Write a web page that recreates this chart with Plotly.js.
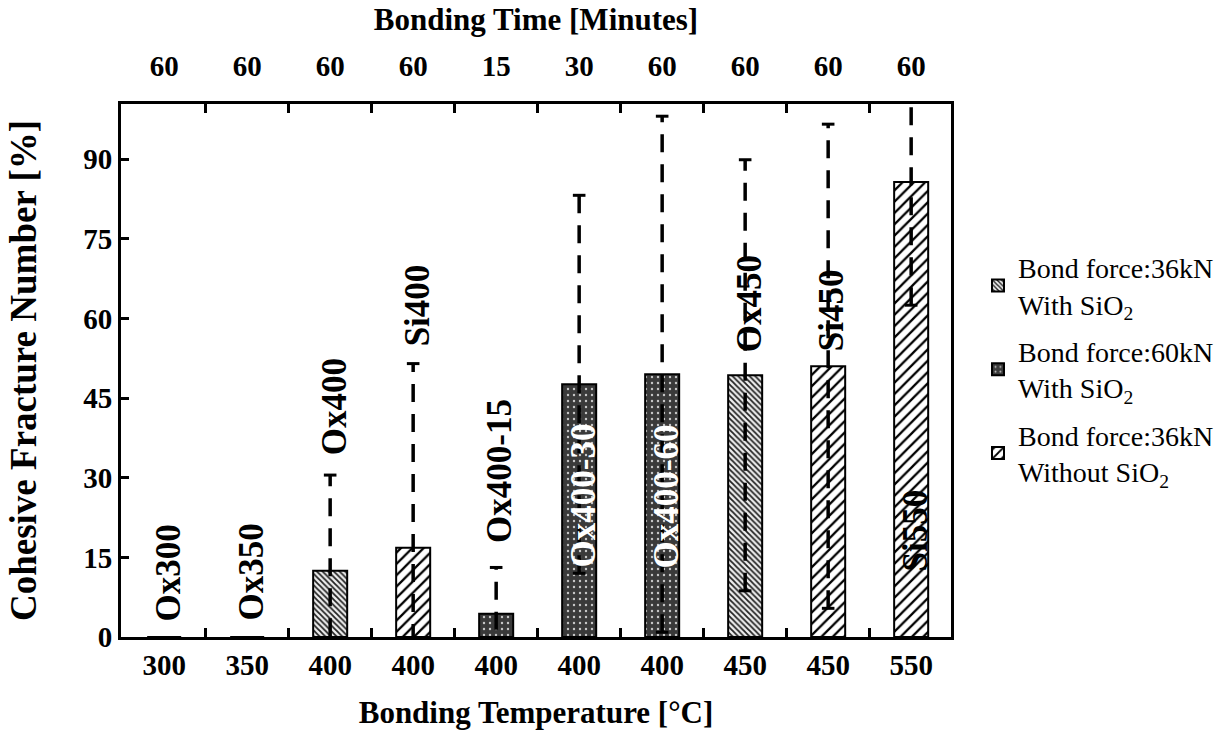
<!DOCTYPE html>
<html>
<head>
<meta charset="utf-8">
<script src="https://cdn.plot.ly/plotly-3.0.1.min.js"></script>
<style>html,body{margin:0;padding:0;background:#fff;}#chart{width:1231px;height:747px;}</style>
</head>
<body>
<div id="chart"></div>
<script>
// ---- data ----
const samples = ['Ox300','Ox350','Ox400','Si400','Ox400-15','Ox400-30','Ox400-60','Ox450','Si450','Si550'];
const temperatures = ['300','350','400','400','400','400','400','450','450','550'];
const bondTimes = ['60','60','60','60','15','30','60','60','60','60'];
const fractureValues = [0, 0, 12.5, 16.8, 4.4, 47.6, 49.5, 49.3, 51.0, 85.7];
const fractureErrors = [null, null, 18.0, 34.7, 8.7, 35.6, 48.6, 40.6, 45.6, 23.2];
const groupOf = ['A','A','A','C','B','B','B','A','C','C'];
const groupNames = {
  A: 'Bond force:36kN<br>With SiO<sub>2</sub>',
  B: 'Bond force:60kN<br>With SiO<sub>2</sub>',
  C: 'Bond force:36kN<br>Without SiO<sub>2</sub>'
};
const yTicks = [0, 15, 30, 45, 60, 75, 90];

// ---- styles / layout helpers ----
const FONT = 'Liberation Serif, Times New Roman, serif';
const patterns = {
  A: {shape: '\\', size: 4, solidity: 0.45, fgcolor: '#222', bgcolor: '#eee', fillmode: 'replace'},
  B: {shape: '.', size: 6, solidity: 0.12, fgcolor: '#c8c8c8', bgcolor: '#3a3a3a', fillmode: 'replace'},
  C: {shape: '/', size: 8, solidity: 0.28, fgcolor: '#000', bgcolor: '#fff', fillmode: 'replace'}
};
const labelPos = [12.0, 12.2, 43.3, 62.5, 31.3, 26.7, 26.5, 62.7, 61.6, 20.1];
const labelWhite = ['Ox400-30', 'Ox400-60'];

const idx = samples.map((_, i) => i);
const XR = [-0.52, 9.48];
const YR = [0, 100.4];

const traces = [];
['A','B','C'].forEach(g => {
  const ii = idx.filter(i => groupOf[i] === g);
  traces.push({
    type: 'bar',
    x: ii,
    y: ii.map(i => fractureValues[i]),
    width: 0.41,
    name: groupNames[g],
    legendgroup: g,
    marker: {color: patterns[g].bgcolor, pattern: patterns[g], line: {color: '#000', width: 2}},
    hoverinfo: 'skip'
  });
});

// error bars as dashed lines
const ex = [], ey = [];
idx.forEach(i => {
  if (fractureErrors[i] == null) return;
  ex.push(i, i, null);
  ey.push(fractureValues[i] - fractureErrors[i], fractureValues[i] + fractureErrors[i], null);
});
traces.push({
  type: 'scatter', mode: 'lines', x: ex, y: ey, showlegend: false, hoverinfo: 'skip',
  line: {color: '#000', width: 3.5, dash: '18px,12px'}
});
// caps
const cx = [], cy = [];
idx.forEach(i => {
  if (fractureErrors[i] == null) return;
  [fractureValues[i] - fractureErrors[i], fractureValues[i] + fractureErrors[i]].forEach(v => {
    if (v > YR[0] && v < YR[1]) { cx.push(i); cy.push(v); }
  });
});
traces.push({
  type: 'scatter', mode: 'markers', x: cx, y: cy, showlegend: false, hoverinfo: 'skip',
  marker: {symbol: 'line-ew', size: 9, line: {color: '#000', width: 3}}
});
// invisible traces that carry the boundary tick axes
['x2','x3','x4'].forEach(ax => traces.push({
  type: 'scatter', x: [0], y: [0], xaxis: ax, mode: 'markers',
  marker: {opacity: 0}, showlegend: false, hoverinfo: 'skip'
}));

const boundaries = idx.slice(0, -1).map(i => i + 0.5);
const tickFont = {family: FONT, size: 29, color: '#000', weight: 'bold'};
const titleFont = {family: FONT, size: 31, color: '#000', weight: 'bold'};

const annotations = idx.map(i => ({
  x: i, y: labelPos[i], xref: 'x', yref: 'y', text: samples[i], showarrow: false,
  textangle: -90, xshift: 4,
  font: {family: FONT, size: 35, weight: 'bold', color: labelWhite.includes(samples[i]) ? '#fff' : '#000'}
}));

const layout = {
  width: 1231, height: 747,
  margin: {l: 121, r: 280, t: 104, b: 110},
  paper_bgcolor: '#fff', plot_bgcolor: '#fff',
  barmode: 'overlay',
  showlegend: true,
  legend: {
    x: 1.0325, y: 0.74, xanchor: 'left', yanchor: 'top',
    font: {family: FONT, size: 28, color: '#000'},
    traceorder: 'grouped', tracegroupgap: 8, bgcolor: 'rgba(0,0,0,0)'
  },
  xaxis: {
    range: XR, tickmode: 'array', tickvals: idx, ticktext: temperatures,
    ticks: '', showgrid: false, zeroline: false,
    showline: true, linecolor: '#000', linewidth: 3, mirror: true,
    tickfont: tickFont, ticklabelstandoff: 0,
    title: {text: 'Bonding Temperature [°C]', font: titleFont, standoff: 22}
  },
  xaxis2: {
    overlaying: 'x', side: 'top', range: XR, tickmode: 'array', tickvals: idx, ticktext: bondTimes,
    ticks: '', showgrid: false, zeroline: false, showline: false,
    tickfont: tickFont, ticklabelstandoff: 21,
    title: {text: 'Bonding Time [Minutes]', font: titleFont, standoff: 10}
  },
  xaxis3: {
    overlaying: 'x', side: 'bottom', range: XR, tickmode: 'array', tickvals: boundaries,
    ticks: 'inside', ticklen: 9, tickwidth: 3, tickcolor: '#000',
    showticklabels: false, showgrid: false, zeroline: false, showline: false
  },
  xaxis4: {
    overlaying: 'x', side: 'top', range: XR, tickmode: 'array', tickvals: boundaries,
    ticks: 'inside', ticklen: 9, tickwidth: 3, tickcolor: '#000',
    showticklabels: false, showgrid: false, zeroline: false, showline: false
  },
  yaxis: {
    range: YR, tickmode: 'array', tickvals: yTicks, ticktext: yTicks.map(String),
    ticks: 'inside', ticklen: 8, tickwidth: 3, tickcolor: '#000',
    showgrid: false, zeroline: false,
    showline: true, linecolor: '#000', linewidth: 3, mirror: true,
    tickfont: tickFont, ticklabelstandoff: 0,
    title: {text: 'Cohesive Fracture Number [%]', font: {family: FONT, size: 37, color: '#000', weight: 'bold'}, standoff: 36}
  },
  annotations: annotations
};

Plotly.newPlot('chart', traces, layout, {displayModeBar: false, staticPlot: true});
</script>
</body>
</html>
